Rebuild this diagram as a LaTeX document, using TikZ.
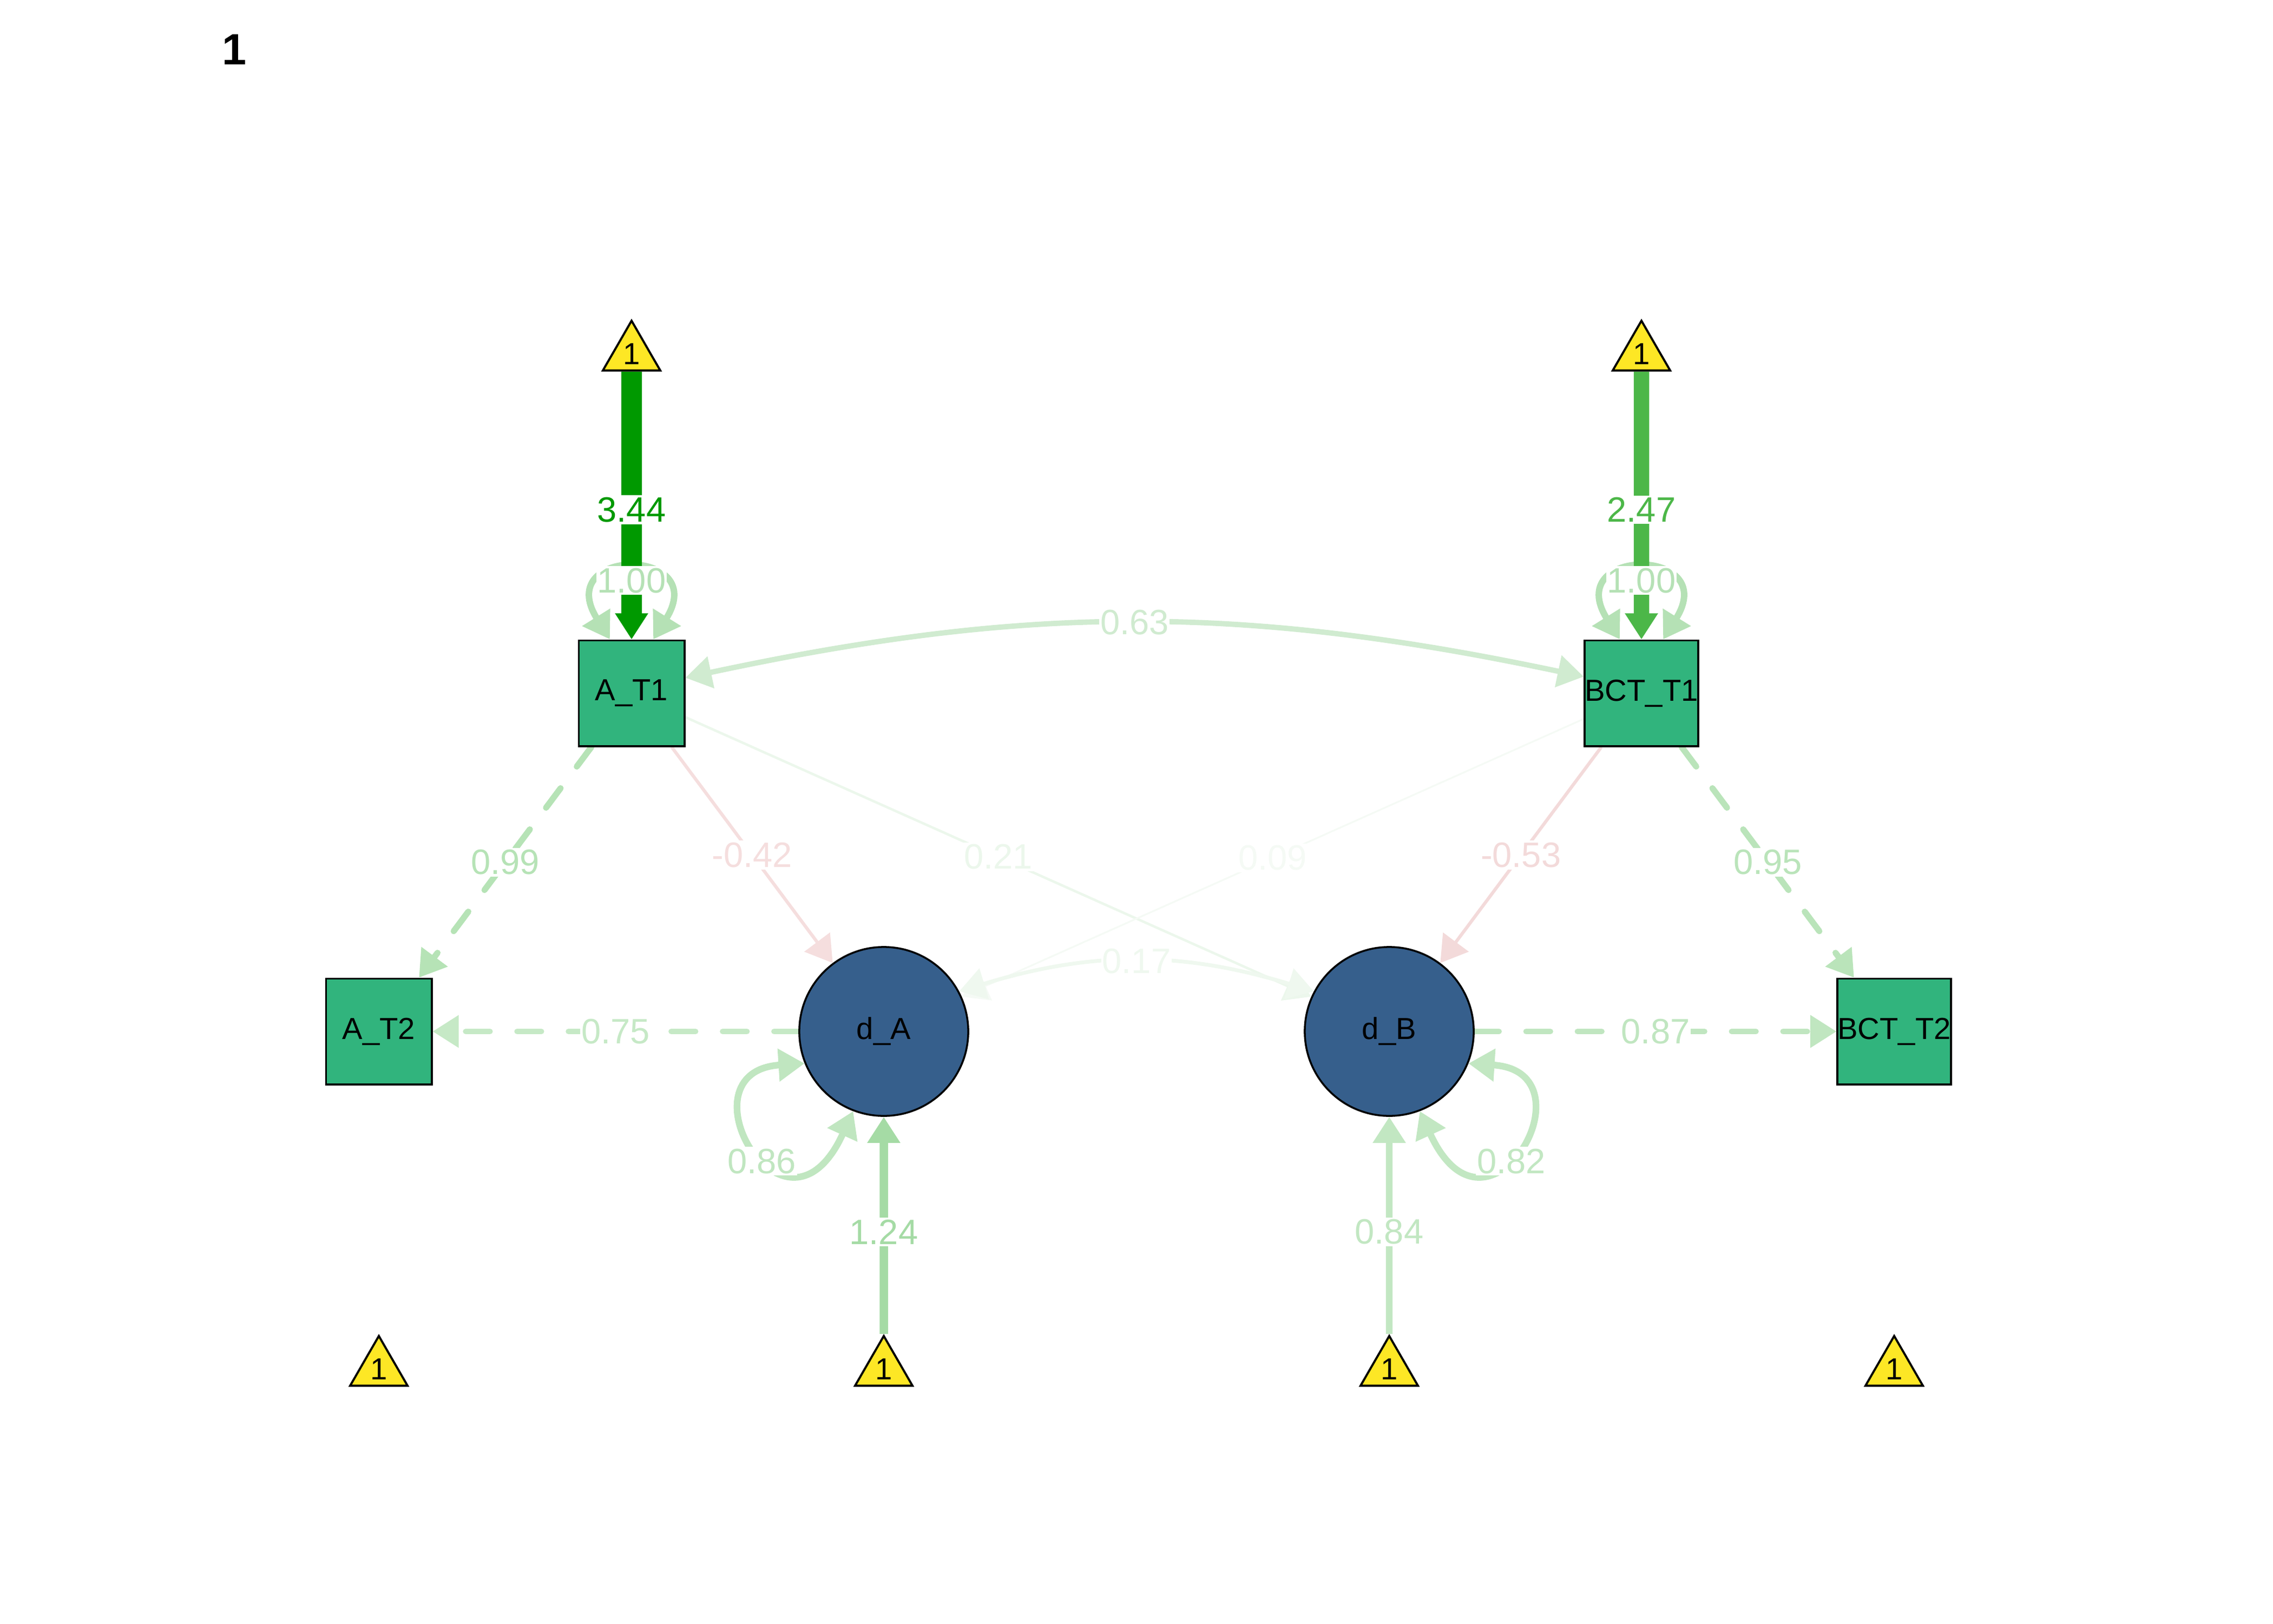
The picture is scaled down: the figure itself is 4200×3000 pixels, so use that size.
\documentclass[tikz,border=0pt]{standalone}
\usepackage{fontspec}
\setmainfont{Liberation Sans}
\usetikzlibrary{arrows.meta,shapes.geometric}
\pgfdeclarelayer{edges}
\pgfdeclarelayer{labels}
\pgfsetlayers{edges,main,labels}
\definecolor{boxg}{RGB}{49,180,125}
\definecolor{circb}{RGB}{54,95,140}
\definecolor{triy}{RGB}{253,231,37}
\definecolor{cA}{RGB}{0,153,0}
\definecolor{cB}{RGB}{76,183,72}
\definecolor{cone}{RGB}{181,225,181}
\definecolor{csix}{RGB}{208,235,208}
\definecolor{cnn}{RGB}{182,227,182}
\definecolor{cnf}{RGB}{186,228,186}
\definecolor{csf}{RGB}{198,233,198}
\definecolor{cse}{RGB}{192,230,192}
\definecolor{cnegA}{RGB}{245,222,222}
\definecolor{cnegB}{RGB}{243,218,218}
\definecolor{ctwo}{RGB}{236,247,236}
\definecolor{czero}{RGB}{245,250,245}
\definecolor{cseven}{RGB}{239,248,239}
\definecolor{cotf}{RGB}{165,219,165}
\definecolor{cef}{RGB}{194,231,194}
\definecolor{ces}{RGB}{192,230,192}
\definecolor{cet}{RGB}{194,231,194}
\tikzset{
  obs/.style={rectangle, draw=black, line width=1.1pt, fill=boxg, minimum size=1.95cm, inner sep=0pt, font=\fontsize{16}{19}\selectfont},
  lat/.style={circle, draw=black, line width=1pt, fill=circb, minimum size=3.12cm, inner sep=0pt, font=\fontsize{16}{19}\selectfont},
  tri/.style={regular polygon, regular polygon sides=3, draw=black, line width=1.1pt, fill=triy, minimum size=1.224cm, inner sep=0pt, font=\fontsize{16}{19}\selectfont},
  lbl/.style={fill=white, inner xsep=0.5pt, inner ysep=1pt, font=\fontsize{18.5}{22}\selectfont},
  onehead/.style={-{Triangle[length=13.7pt,width=16.5pt]}},
  twohead/.style={{Triangle[length=13.7pt,width=16.5pt]}-{Triangle[length=13.7pt,width=16.5pt]}},
  dsh/.style={dash pattern=on 12.8pt off 14.2pt, line cap=round},
}
\begin{document}
\begin{tikzpicture}[x=0.01cm, y=0.01cm]
\useasboundingbox (0,0) rectangle (4200,-3000);
% title
\node[font=\fontsize{23}{27}\selectfont\bfseries] (ttl) at (433,-92) {1};
% nodes
\node[tri] (t1) at (1167,-654) {1};
\node[tri] (t2) at (3033,-654) {1};
\node[obs] (a1) at (1167,-1281) {A\_T1};
\node[obs] (b1) at (3033,-1281) {BCT\_T1};
\node[obs] (a2) at (700,-1906) {A\_T2};
\node[obs] (b2) at (3500,-1906) {BCT\_T2};
\node[lat] (da) at (1633,-1906) {d\_A};
\node[lat] (db) at (2567,-1906) {d\_B};
\node[tri] (t5) at (700,-2530) {1};
\node[tri] (t3) at (1633,-2530) {1};
\node[tri] (t4) at (2567,-2530) {1};
\node[tri] (t6) at (3500,-2530) {1};
% edges
\begin{pgfonlayer}{edges}
\draw[line width=3.4pt, cone, twohead] ([xshift=-0.4cm]a1.north) .. controls (1020,-1010) and (1314,-1010) .. ([xshift=0.4cm]a1.north);
\draw[line width=3.4pt, cone, twohead] ([xshift=-0.4cm]b1.north) .. controls (2886,-1010) and (3180,-1010) .. ([xshift=0.4cm]b1.north);
\draw[line width=10.8pt, cA, onehead] (t1) -- (a1);
\draw[line width=8.1pt, cB, onehead] (t2) -- (b1);
\draw[line width=2.8pt, csix, twohead] (a1.16) to[bend left=12] (b1.164);
\draw[line width=3.2pt, cnn, onehead, dsh] (a1) -- (a2);
\draw[line width=3.2pt, cnf, onehead, dsh] (b1) -- (b2);
\draw[line width=1.7pt, cnegA, onehead] (a1) -- (da);
\draw[line width=1.3pt, ctwo, onehead] (a1) -- (db);
\draw[line width=0.9pt, czero, onehead] (b1) -- (da);
\draw[line width=1.7pt, cnegB, onehead] (b1) -- (db);
\draw[line width=2.9pt, csf, onehead, dsh] (da) -- (a2);
\draw[line width=2.9pt, cse, onehead, dsh] (db) -- (b2);
\draw[line width=2pt, cseven, twohead] (da.28) to[bend left=17] (db.152);
\draw[line width=3.5pt, ces, twohead] (da.202) .. controls (1250,-1980) and (1450,-2330) .. (da.249);
\draw[line width=3.5pt, cet, twohead] (db.338) .. controls (2950,-1980) and (2750,-2330) .. (db.291);
\draw[line width=4.4pt, cotf, onehead] (t3) -- (da);
\draw[line width=3.5pt, cef, onehead] (t4) -- (db);
\end{pgfonlayer}
% labels
\begin{pgfonlayer}{labels}
\path (t1) -- (a1) node[lbl, text=cA, midway, yshift=-0.08cm] {3.44};
\path (t2) -- (b1) node[lbl, text=cB, midway, yshift=-0.08cm] {2.47};
\path ([xshift=-0.4cm]a1.north) .. controls (1020,-1010) and (1314,-1010) .. ([xshift=0.4cm]a1.north) node[lbl, text=cone, pos=0.5, yshift=-0.2cm] {1.00};
\path ([xshift=-0.4cm]b1.north) .. controls (2886,-1010) and (3180,-1010) .. ([xshift=0.4cm]b1.north) node[lbl, text=cone, pos=0.5, yshift=-0.2cm] {1.00};
\path (a1.16) to[bend left=12] node[lbl, text=csix, midway] {0.63} (b1.164);
\path (a1) -- (a2) node[lbl, text=cnn, midway] {0.99};
\path (b1) -- (b2) node[lbl, text=cnf, midway] {0.95};
\path (a1) -- (da) node[lbl, text=cnegA, midway] {-0.42};
\path (a1) -- (db) node[lbl, text=ctwo, midway] {0.21};
\path (b1) -- (da) node[lbl, text=czero, midway] {0.09};
\path (b1) -- (db) node[lbl, text=cnegB, midway] {-0.53};
\path (da) -- (a2) node[lbl, text=csf, midway] {0.75};
\path (db) -- (b2) node[lbl, text=cse, midway] {0.87};
\path (da.28) to[bend left=17] node[lbl, text=cseven, midway] {0.17} (db.152);
\path (da.202) .. controls (1250,-1980) and (1450,-2330) .. (da.249) node[lbl, text=ces, pos=0.55, yshift=-0.12cm] {0.86};
\path (db.338) .. controls (2950,-1980) and (2750,-2330) .. (db.291) node[lbl, text=cet, pos=0.55, yshift=-0.12cm] {0.82};
\path (t3) -- (da) node[lbl, text=cotf, midway, yshift=-0.12cm] {1.24};
\path (t4) -- (db) node[lbl, text=cef, midway, yshift=-0.12cm] {0.84};
\end{pgfonlayer}
\end{tikzpicture}
\end{document}
